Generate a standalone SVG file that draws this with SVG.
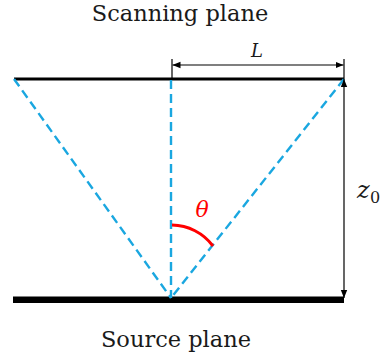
<svg xmlns="http://www.w3.org/2000/svg" width="383" height="360" viewBox="0 0 383 360">
<style>
.t{font-family:'DejaVu Serif',serif;fill:#1a1a1a}
.it{font-style:italic}
.dash{stroke:#1aa7e0;stroke-width:2.4;stroke-dasharray:9 5;fill:none}
.dim{stroke:#000;stroke-width:1.2;fill:none}
</style>
<defs>
<marker id="ah" viewBox="0 0 10 10" refX="10" refY="5" markerWidth="8" markerHeight="8" markerUnits="userSpaceOnUse" orient="auto-start-reverse">
<path d="M0,1 L10,5 L0,9 Z" fill="#000"/>
</marker>
</defs>
<rect width="383" height="360" fill="#fff"/>
<g id="scanning-plane">
<line x1="14" y1="79" x2="344" y2="79" stroke="#000" stroke-width="3"/>
<text class="t" x="180" y="21" font-size="22.5" text-anchor="middle">Scanning plane</text>
</g>
<g id="source-plane">
<rect x="13" y="296.5" width="331" height="6.5" fill="#000"/>
<text class="t" x="176" y="347" font-size="22.5" text-anchor="middle">Source plane</text>
</g>
<g id="connectors">
<line class="dash" x1="14" y1="79" x2="171" y2="298"/>
<line class="dash" x1="171" y1="80" x2="171" y2="298"/>
<line class="dash" x1="344" y1="79" x2="171" y2="298"/>
<line class="dim" x1="172" y1="59" x2="172" y2="79"/>
<line class="dim" x1="344" y1="59" x2="344" y2="79"/>
<line class="dim" x1="172.5" y1="65" x2="343.5" y2="65" marker-start="url(#ah)" marker-end="url(#ah)"/>
<line class="dim" x1="344" y1="79" x2="344" y2="298" marker-start="url(#ah)" marker-end="url(#ah)"/>
<path d="M172,225 A52,52 0 0 1 213,246" stroke="#ff0000" stroke-width="3" fill="none"/>
</g>
<g id="labels">
<text class="t it" x="257" y="57" font-size="18" text-anchor="middle">L</text>
<text class="t it" x="202" y="217" font-size="22" text-anchor="middle" style="fill:#ff0000">θ</text>
<text class="t it" x="357" y="198" font-size="24">z</text>
<text class="t" x="370" y="203" font-size="16">0</text>
</g>
</svg>
